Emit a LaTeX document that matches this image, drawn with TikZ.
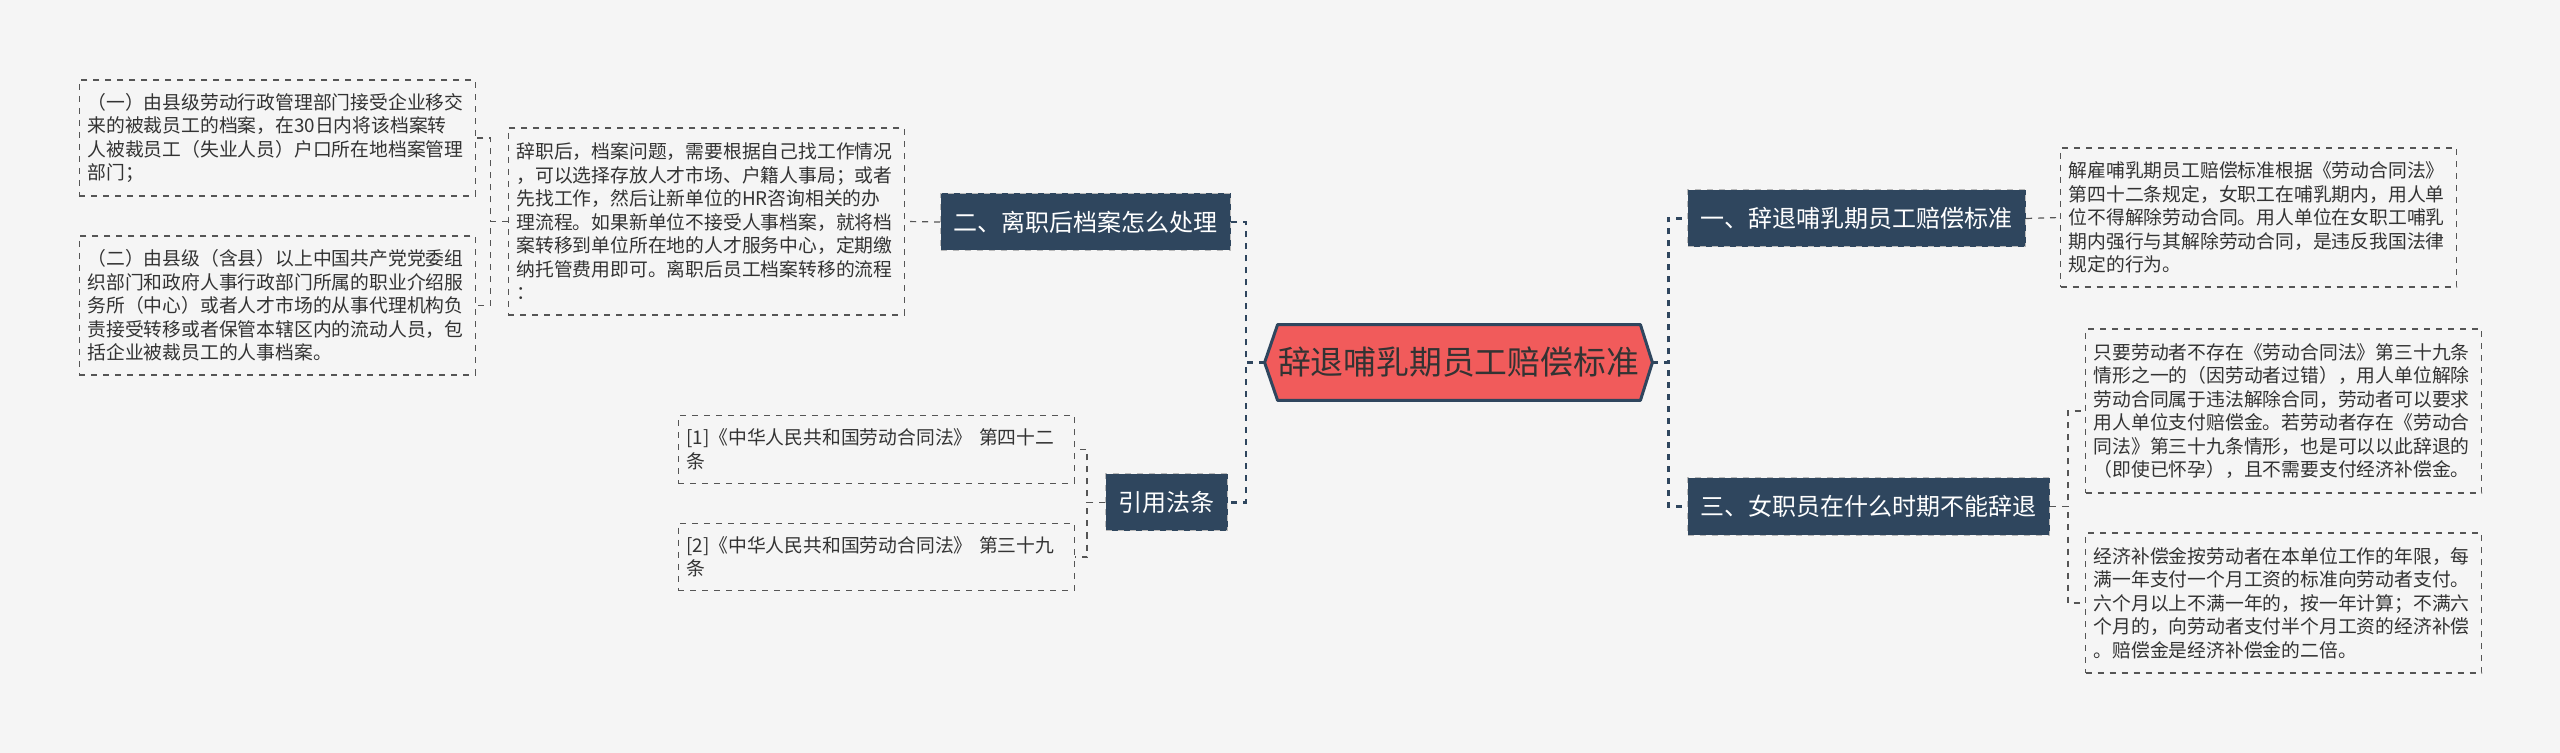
\documentclass[tikz,border=0pt]{standalone}
\usepackage{fontspec}
\setmainfont{Noto Sans CJK SC}
\usetikzlibrary{backgrounds}
\definecolor{pagebg}{HTML}{F5F5F5}
\definecolor{navy}{HTML}{2F465E}
\definecolor{rootred}{HTML}{F15B5B}
\definecolor{leafline}{HTML}{555555}
\definecolor{leaftext}{HTML}{333333}

\begin{document}
\begin{tikzpicture}[
    x=0.5pt, y=-0.5pt,
    root/.style={minimum width=193.5pt, minimum height=37.5pt, inner sep=0pt,
                 text=leaftext, font=\fontsize{16.4pt}{19pt}\selectfont},
    topic/.style={fill=navy, draw=gray!55, dashed, line width=0.5pt, text=white,
                  inner xsep=6.5pt, minimum height=28.5pt,
                  font=\fontsize{12pt}{14pt}\selectfont},
    leaf/.style={draw=leafline, dashed, line width=0.6pt, text=leaftext,
                 text width=190pt, inner xsep=4pt, inner ysep=4pt, align=left,
                 minimum height=#1, font=\fontsize{9.4pt}{11.75pt}\selectfont},
    trunk/.style={draw=navy, line width=1.1pt, dashed},
    twig/.style={draw=leafline, line width=0.6pt, dashed}]
  \begin{scope}[on background layer]
    \fill[pagebg] (0,0) rectangle (2560,753);
  \end{scope}
  \useasboundingbox (0,0) rectangle (2560,753);

  % centre and main topics
  \node[root] (c) at (1458.5,362.5) {辞退哺乳期员工赔偿标准};
  \node[topic, anchor=east] (b2) at (1231,222) {二、离职后档案怎么处理};
  \node[topic, anchor=east] (rf) at (1228,502.5) {引用法条};
  \node[topic, anchor=west] (b1) at (1687,218.5) {一、辞退哺乳期员工赔偿标准};
  \node[topic, anchor=west] (b3) at (1687,506.5) {三、女职员在什么时期不能辞退};

  % left leaves
  \node[leaf=93.5pt, anchor=east] (m) at (905,221.5)
    {辞职后，档案问题，需要根据自己找工作情况\\
     ，可以选择存放人才市场、户籍人事局；或者\\
     先找工作，然后让新单位的HR咨询相关的办\\
     理流程。如果新单位不接受人事档案，就将档\\
     案转移到单位所在地的人才服务中心，定期缴\\
     纳托管费用即可。离职后员工档案转移的流程\\
     ：};
  \node[leaf=58pt, anchor=east] (l1) at (476,138)
    {（一）由县级劳动行政管理部门接受企业移交\\
     来的被裁员工的档案，在30日内将该档案转\\
     人被裁员工（失业人员）户口所在地档案管理\\
     部门；};
  \node[leaf=69.5pt, anchor=east] (l2) at (476,305.5)
    {（二）由县级（含县）以上中国共产党党委组\\
     织部门和政府人事行政部门所属的职业介绍服\\
     务所（中心）或者人才市场的从事代理机构负\\
     责接受转移或者保管本辖区内的流动人员，包\\
     括企业被裁员工的人事档案。};
  \node[leaf=33.75pt, anchor=east] (rf1) at (1075,449.5)
    {[1]《中华人民共和国劳动合同法》 第四十二\\ 条};
  \node[leaf=33.75pt, anchor=east] (rf2) at (1075,557)
    {[2]《中华人民共和国劳动合同法》 第三十九\\ 条};

  % right leaves
  \node[leaf=69.5pt, anchor=west] (r1) at (2060,217.5)
    {解雇哺乳期员工赔偿标准根据《劳动合同法》\\
     第四十二条规定，女职工在哺乳期内，用人单\\
     位不得解除劳动合同。用人单位在女职工哺乳\\
     期内强行与其解除劳动合同，是违反我国法律\\
     规定的行为。};
  \node[leaf=82pt, anchor=west] (r2) at (2085,411)
    {只要劳动者不存在《劳动合同法》第三十九条\\
     情形之一的（因劳动者过错），用人单位解除\\
     劳动合同属于违法解除合同，劳动者可以要求\\
     用人单位支付赔偿金。若劳动者存在《劳动合\\
     同法》第三十九条情形，也是可以以此辞退的\\
     （即使已怀孕），且不需要支付经济补偿金。};
  \node[leaf=70pt, anchor=west] (r3) at (2085,603)
    {经济补偿金按劳动者在本单位工作的年限，每\\
     满一年支付一个月工资的标准向劳动者支付。\\
     六个月以上不满一年的，按一年计算；不满六\\
     个月的，向劳动者支付半个月工资的经济补偿\\
     。赔偿金是经济补偿金的二倍。};

  % hexagon behind the centre text
  \begin{scope}[on background layer]
    \draw[draw=navy, fill=rootred, line width=1.5pt, line join=round]
      ([xshift=6.5pt]c.north west) -- ([xshift=-6pt]c.north east) -- (c.east)
      -- ([xshift=-6pt]c.south east) -- ([xshift=6.5pt]c.south west) -- (c.west) -- cycle;
  \end{scope}

  % connectors
  \draw[trunk] (c.west) -- ++(-19,0) |- (b2.east);
  \draw[trunk] (c.west) -- ++(-19,0) |- (rf.east);
  \draw[trunk] (c.east) -- ++(16,0) |- (b1.west);
  \draw[trunk] (c.east) -- ++(16,0) |- (b3.west);
  \draw[twig] (b2.west) -- (m.east);
  \draw[twig] (m.west) -- ++(-17,0) |- (l1.east);
  \draw[twig] (m.west) -- ++(-17,0) |- (l2.east);
  \draw[twig] (rf.west) -- ++(-18,0) |- (rf1.east);
  \draw[twig] (rf.west) -- ++(-18,0) |- (rf2.east);
  \draw[twig] (b1.east) -- (r1.west);
  \draw[twig] (b3.east) -- ++(18,0) |- (r2.west);
  \draw[twig] (b3.east) -- ++(18,0) |- (r3.west);
\end{tikzpicture}
\end{document}
